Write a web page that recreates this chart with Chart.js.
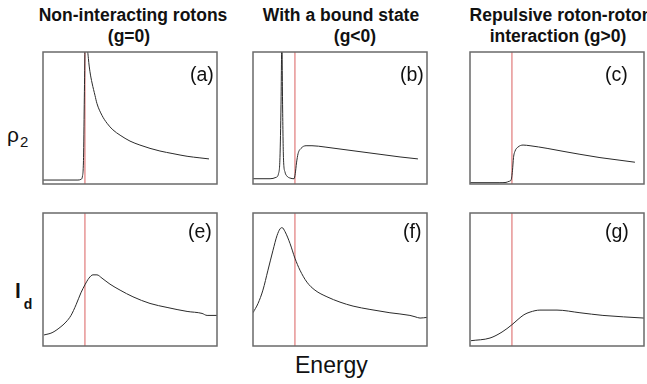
<!DOCTYPE html>
<html>
<head>
<meta charset="utf-8">
<script src="https://cdn.jsdelivr.net/npm/chart.js@4.4.1/dist/chart.umd.min.js"></script>
<style>
  html, body { margin: 0; padding: 0; background: #fff; }
  body { width: 647px; height: 384px; position: relative; overflow: hidden;
         font-family: "Liberation Sans", Arial, Helvetica, sans-serif; color: #111; }
  canvas { position: absolute; }
  .t { position: absolute; white-space: nowrap; transform: translateX(-50%);
       font-weight: bold; font-size: 17.5px; line-height: 18px; }
  .lab { position: absolute; white-space: nowrap; font-size: 19.5px; line-height: 20px; }
  .ax { position: absolute; white-space: nowrap; }
</style>
</head>
<body>
<canvas id="pa"></canvas>
<canvas id="pb"></canvas>
<canvas id="pc"></canvas>
<canvas id="pe"></canvas>
<canvas id="pf"></canvas>
<canvas id="pg"></canvas>

<div class="t" style="left:133px; top:6px;">Non-interacting rotons</div>
<div class="t" style="left:129px; top:27px;">(g=0)</div>
<div class="t" style="left:341px; top:6px;">With a bound state</div>
<div class="t" style="left:355px; top:27px;">(g&lt;0)</div>
<div class="t" style="left:561px; top:6px;">Repulsive roton-roton</div>
<div class="t" style="left:558px; top:27px;">interaction (g&gt;0)</div>

<div class="lab" style="left:190px; top:64px;">(a)</div>
<div class="lab" style="left:400px; top:64px;">(b)</div>
<div class="lab" style="left:605px; top:64px;">(c)</div>
<div class="lab" style="left:188px; top:221px;">(e)</div>
<div class="lab" style="left:403px; top:221px;">(f)</div>
<div class="lab" style="left:605px; top:221px;">(g)</div>

<div class="ax" style="left:7px; top:123px; font-size:21px;">ρ<span style="font-size:15px; position:relative; top:5px; left:1px;">2</span></div>
<div class="ax" style="left:15px; top:279px; font-size:21px; font-weight:bold;">l<span style="font-size:14px; position:relative; top:11px; left:3px;">d</span></div>
<div class="ax" style="left:295px; top:353px; font-size:23px; line-height:24px;">Energy</div>

<script>
// ---- data (x: energy, arbitrary units 0..100; y: normalised signal 0..1) ----
const thresholdX = 24.1;   // roton-pair threshold (red line), same in every panel

const aX = [0, 9.8, 20.1, 21.8, 22.7, 23.3, 23.7, 24.1, 24.4, 25.3, 26.1, 27.0, 28.2, 29.9, 31.0, 33.9, 36.8, 40.2, 44.3, 50.0, 55.7, 61.5, 67.2, 74.7, 82.8, 90.2, 95.4];
const aY = [0.03, 0.03, 0.03, 0.035, 0.06, 0.2, 0.6, 1.05, 1.6, 1.1, 0.95, 0.85, 0.765, 0.67, 0.61, 0.52, 0.46, 0.41, 0.37, 0.325, 0.295, 0.27, 0.25, 0.23, 0.21, 0.198, 0.19];

const bX = [0, 9.8, 13.2, 14.7, 15.5, 16.1, 16.6, 17.0, 17.5, 18.4, 19.5, 21.3, 23.6, 24.3, 25.0, 25.9, 27.6, 30.5, 33.9, 41.4, 50.0, 61.5, 73.0, 84.5, 94.8];
const bY = [0.04, 0.04, 0.05, 0.08, 0.2, 0.6, 1.1, 0.6, 0.2, 0.09, 0.06, 0.045, 0.04, 0.08, 0.16, 0.23, 0.27, 0.29, 0.29, 0.28, 0.265, 0.245, 0.225, 0.205, 0.19];

const cX = [0, 17.2, 20.7, 22.4, 23.6, 24.4, 25.0, 25.9, 27.6, 30.5, 34.5, 44.3, 54.6, 63.2, 74.7, 86.2, 94.8];
const cY = [0.01, 0.01, 0.012, 0.02, 0.03, 0.1, 0.2, 0.25, 0.28, 0.295, 0.29, 0.27, 0.245, 0.225, 0.2, 0.18, 0.165];

const eX = [0.6, 5.2, 9.8, 13.2, 16.1, 19.0, 21.8, 24.1, 26.4, 28.7, 31.0, 33.9, 38.5, 44.3, 51.7, 61.5, 71.3, 82.8, 91.4, 94.3, 100];
const eY = [0.083, 0.10, 0.14, 0.18, 0.23, 0.31, 0.40, 0.46, 0.51, 0.535, 0.535, 0.51, 0.465, 0.42, 0.37, 0.32, 0.29, 0.26, 0.245, 0.23, 0.23];

const fX = [0, 2.9, 5.7, 8.6, 11.5, 13.8, 15.5, 16.7, 18.4, 21.3, 24.1, 27.0, 31.0, 35.6, 42.5, 50.0, 57.5, 67.2, 78.7, 90.2, 93.1, 96.0, 100];
const fY = [0.25, 0.32, 0.42, 0.57, 0.72, 0.83, 0.88, 0.89, 0.86, 0.77, 0.66, 0.57, 0.48, 0.42, 0.37, 0.33, 0.30, 0.275, 0.25, 0.23, 0.22, 0.21, 0.215];

const gX = [0.6, 11.5, 18.4, 24.1, 27.6, 31.0, 34.5, 40.2, 50.0, 63.2, 76.4, 100];
const gY = [0.04, 0.06, 0.105, 0.16, 0.20, 0.235, 0.255, 0.27, 0.27, 0.25, 0.23, 0.21];

// ---- layout ----
const panels = [
  { id: 'pa', x: aX, y: aY, left: 43,  top: 52,  w: 174, h: 132 },
  { id: 'pb', x: bX, y: bY, left: 253, top: 52,  w: 174, h: 132 },
  { id: 'pc', x: cX, y: cY, left: 470, top: 52,  w: 174, h: 132 },
  { id: 'pe', x: eX, y: eY, left: 43,  top: 213, w: 174, h: 133 },
  { id: 'pf', x: fX, y: fY, left: 253, top: 213, w: 174, h: 133 },
  { id: 'pg', x: gX, y: gY, left: 470, top: 213, w: 174, h: 133 }
];

const framePlugin = {
  id: 'frame',
  afterDraw(chart) {
    const a = chart.chartArea, ctx = chart.ctx;
    ctx.save();
    ctx.strokeStyle = '#6a6a6a';
    ctx.lineWidth = 1.5;
    ctx.strokeRect(a.left, a.top, a.right - a.left, a.bottom - a.top);
    ctx.restore();
  }
};

const PAD = 2;
panels.forEach(p => {
  const cv = document.getElementById(p.id);
  cv.width = p.w + 2 * PAD;
  cv.height = p.h + 2 * PAD;
  cv.style.left = (p.left - PAD) + 'px';
  cv.style.top = (p.top - PAD) + 'px';
  const curve = p.x.map((xv, i) => ({ x: xv, y: p.y[i] }));
  new Chart(cv, {
    type: 'scatter',
    data: {
      datasets: [
        { data: [{ x: thresholdX, y: 0 }, { x: thresholdX, y: 1 }], showLine: true,
          borderColor: '#e07a7a', borderWidth: 1.2, pointRadius: 0, order: 2 },
        { data: curve, showLine: true, borderColor: '#2a2a2a', borderWidth: 1,
          pointRadius: 0, cubicInterpolationMode: 'monotone', order: 1 }
      ]
    },
    options: {
      responsive: false, animation: false, devicePixelRatio: 1,
      layout: { padding: PAD },
      plugins: { legend: { display: false }, tooltip: { enabled: false } },
      scales: {
        x: { type: 'linear', min: 0, max: 100, display: false },
        y: { type: 'linear', min: 0, max: 1, display: false }
      }
    },
    plugins: [framePlugin]
  });
});
</script>
</body>
</html>
